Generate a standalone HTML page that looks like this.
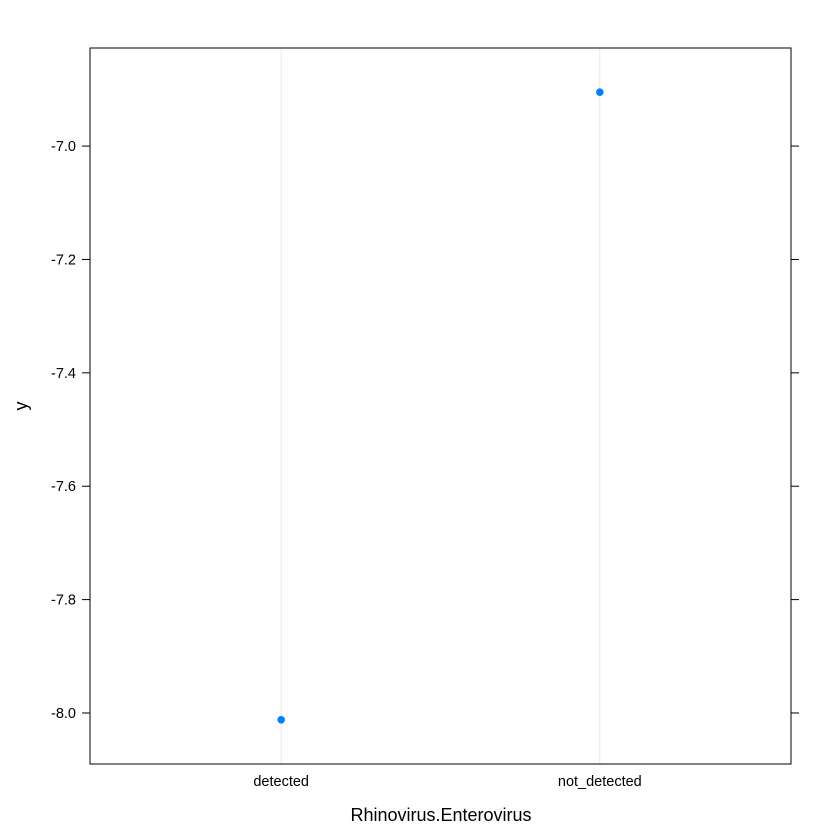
<!DOCTYPE html>
<html><head><meta charset="utf-8"><style>
body{margin:0;background:#fff;}
svg{display:block;font-family:"Liberation Sans",sans-serif;}
</style></head><body>
<svg id="chart" width="840" height="840" viewBox="0 0 840 840" xmlns="http://www.w3.org/2000/svg">
<rect width="840" height="840" fill="#fff"/>
<g id="grid"></g>
<g id="points"></g>
<rect x="90" y="48" width="701" height="716" fill="none" stroke="#000" stroke-width="1"/>
<g id="yaxis"></g>
<g id="xaxis"></g>
<text x="441" y="821" font-size="18" text-anchor="middle">Rhinovirus.Enterovirus</text>
<text x="27" y="406" font-size="18" text-anchor="middle" transform="rotate(-90 27 406)">y</text>
</svg>
<script>
const categories = ["detected", "not_detected"];
const values = [-8.012, -6.905];
const yTicks = [-7.0, -7.2, -7.4, -7.6, -7.8, -8.0];
const yTickLabels = ["-7.0", "-7.2", "-7.4", "-7.6", "-7.8", "-8.0"];

const L = 90, R = 791, T = 48, B = 764;
const xMin = 0.4, xMax = 2.6, yMin = -8.090, yMax = -6.827;
function xs(i){ return L + ((i + 1) - xMin) / (xMax - xMin) * (R - L); }
function ys(v){ return B - (v - yMin) / (yMax - yMin) * (B - T); }
const NS = "http://www.w3.org/2000/svg";
function mk(tag, attrs, parent){
  const e = document.createElementNS(NS, tag);
  for (const k in attrs) e.setAttribute(k, attrs[k]);
  parent.appendChild(e);
  return e;
}
const grid = document.getElementById("grid");
const pts = document.getElementById("points");
const xa = document.getElementById("xaxis");
const ya = document.getElementById("yaxis");
categories.forEach((c, i) => {
  const x = xs(i);
  const g = mk("line", {x1: x, x2: x, y1: T, y2: B, stroke: "#e6e6e6", "stroke-width": 1}, grid);
  
  
  const p = mk("circle", {cx: x, cy: ys(values[i]), r: 3.8, fill: "#0080ff"}, pts);
  
  
  const t = mk("text", {x: x, y: 786, "font-size": 14.5, "text-anchor": "middle"}, xa);
  t.textContent = c;
  
  
});
yTicks.forEach((v, i) => {
  const y = ys(v);
  const a = mk("line", {x1: L - 8, x2: L, y1: y, y2: y, stroke: "#000"}, ya);
  
  
  const b = mk("line", {x1: R, x2: R + 8, y1: y, y2: y, stroke: "#000"}, ya);
  
  
  const t = mk("text", {x: L - 14, y: y + 5, "font-size": 14.5, "text-anchor": "end"}, ya);
  t.textContent = yTickLabels[i];
  
  
});
</script>
</body></html>
